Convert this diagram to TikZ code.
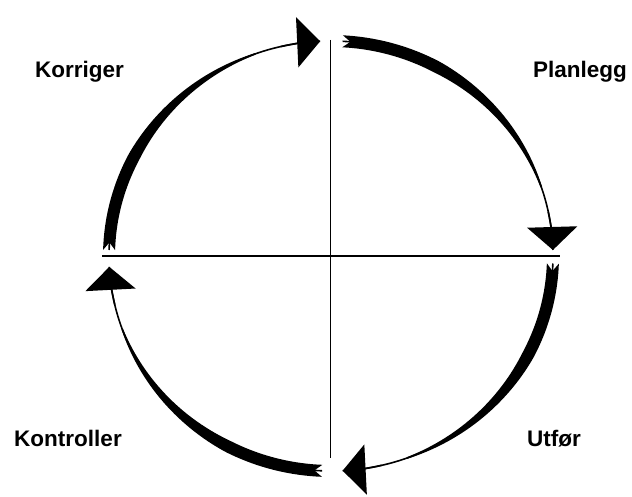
\documentclass[tikz,border=0pt]{standalone}
\usepackage{fontspec}
\setmainfont{Liberation Sans}
\usepackage{tikz}
\usetikzlibrary{arrows.meta}

% centre and radii of the cycle (in pt)
\newcommand\cx{331}
\newcommand\cy{241}
\newcommand\rx{222}
\newcommand\ry{215}

% one quarter of the cycle: #1 start angle, #2 angle of the arrow tip
\newcommand\cyclearc[2]{%
  \pgfmathsetmacro\bandend{#2+0.2*(#1-#2)}
  \pgfmathsetmacro\headstart{#2+0.12*(#1-#2)}
  \draw[thinarc] ({\cx+\rx*cos(#1)},{\cy+\ry*sin(#1)})
    arc[start angle=#1, end angle=#2, x radius=\rx, y radius=\ry];
  \draw[thinarc, headtip] ({\cx+\rx*cos(\headstart)},{\cy+\ry*sin(\headstart)})
    arc[start angle=\headstart, end angle=#2, x radius=\rx, y radius=\ry];
  \fill plot[domain=#1:\bandend, samples=50]
      ({\cx+(\rx+0.5*bandw((#1-\x)/(#1-#2)))*cos(\x)},{\cy+(\ry+0.5*bandw((#1-\x)/(#1-#2)))*sin(\x)})
    -- plot[domain=\bandend:#1, samples=50]
      ({\cx+(\rx-0.5*bandw((#1-\x)/(#1-#2)))*cos(\x)},{\cy+(\ry-0.5*bandw((#1-\x)/(#1-#2)))*sin(\x)})
    -- ({\cx+\rx*cos(#1-2)},{\cy+\ry*sin(#1-2)}) -- cycle;
}

\begin{document}
\begin{tikzpicture}[
    x=1pt, y=1pt,
    declare function={bandw(\s)=1.6+10.4*min(1,max(0,(0.8-\s)/0.5));},
    thinarc/.style={line width=1.6pt},
    headtip/.style={-{Triangle[width=50pt,length=23pt]}},
    axis/.style={line width=#1},
    phase/.style={font=\fontsize{22.5}{27}\selectfont\bfseries, anchor=base}
  ]
  \useasboundingbox (0,0) rectangle (632,497);

  % axes
  \coordinate (west) at (102,241);
  \coordinate (east) at (560,241);
  \coordinate (north) at (330,457);
  \coordinate (south) at (330,39);
  \draw[axis=1.6pt] (west) -- (east);
  \draw[axis=1pt] (north) -- (south);

  % the four arrows of the cycle
  \cyclearc{87}{1.6}
  \cyclearc{-2}{-87}
  \cyclearc{-92.3}{-177.1}
  \cyclearc{178.4}{92.8}

  % phases
  \node[phase] (korriger) at (79.5,419) {Korriger};
  \node[phase] (planlegg) at (580,419) {Planlegg};
  \node[phase] (kontroller) at (68,50) {Kontroller};
  \node[phase] (utfor) at (554,50) {Utfør};
\end{tikzpicture}
\end{document}
